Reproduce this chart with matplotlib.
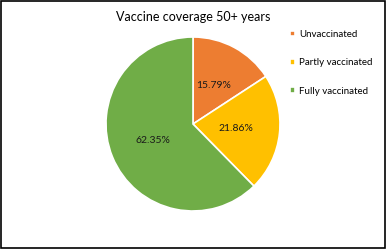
import matplotlib
matplotlib.use("Agg")
import matplotlib.pyplot as plt
from matplotlib.patches import Rectangle

labels = ["Unvaccinated", "Partly vaccinated", "Fully vaccinated"]
shares = [15.79, 21.86, 62.35]
colors = ["#ED7D31", "#FFC000", "#70AD47"]

plt.rcParams["font.family"] = ["Lato", "DejaVu Sans"]


def main():
    fig = plt.figure(figsize=(3.86, 2.49), dpi=100)
    ax = fig.add_axes([0.2746, 0.1526, 174 / 386, 174 / 249])

    wedges, _, autotexts = ax.pie(
        shares, colors=colors, startangle=90, counterclock=False,
        autopct="%.2f%%", pctdistance=0.5,
        wedgeprops=dict(edgecolor="white", linewidth=1.2),
        textprops=dict(fontsize=7.5, color="#1a1a1a"))
    ax.set_xlim(-1, 1)
    ax.set_ylim(-1, 1)
    ax.set_aspect("equal")

    fig.text(0.5, 1 - 17 / 249, "Vaccine coverage 50+ years",
             ha="center", va="center", fontsize=9)

    fig.legend(wedges, labels, loc="upper left",
               bbox_to_anchor=(281 / 386, 1 - 21 / 249),
               frameon=False, fontsize=7, handlelength=0.5,
               handleheight=0.5, handletextpad=0.5, labelspacing=2.0)

    fig.patches.append(Rectangle((0.002, 0.003), 0.995, 0.993, transform=fig.transFigure,
                                 fill=False, edgecolor="black", linewidth=1.2))
    fig.savefig("out.png", dpi=100)


if __name__ == "__main__":
    main()
